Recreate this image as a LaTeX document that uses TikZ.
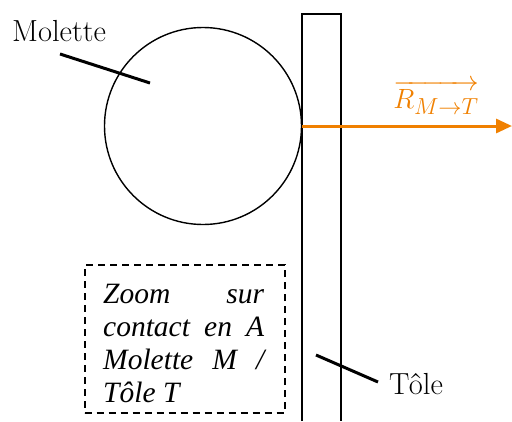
\documentclass[tikz,border=0pt]{standalone}
\usepackage{fontspec}
\newfontfamily\boxfont{Liberation Serif}
\usetikzlibrary{arrows.meta}
\definecolor{forceorange}{RGB}{240,128,0}
\begin{document}
\begin{tikzpicture}[x=1pt,y=-1pt,
  lbl/.style={font=\fontsize{30.5}{36}\selectfont, inner sep=0pt},
  leader/.style={line width=3pt},
  force/.style={line width=3pt, draw=forceorange, -{Triangle[length=16pt,width=14pt]}}]
\useasboundingbox (0,0) rectangle (512,421);
% Wheel
\node[circle, draw, line width=1.4pt, minimum size=197pt, inner sep=0pt] (wheel) at (203,126) {};
% Sheet
\draw[line width=2pt] (302,421) -- (302,14) -- (341,14) -- (341,421);
% Labels
\node[lbl, anchor=base west] (mol) at (12,41) {Molette};
\coordinate (molA) at (60,54);
\coordinate (molB) at (150,83);
\draw[leader] (molA) -- (molB);
\node[lbl, anchor=base west] (tole) at (389,394) {Tôle};
\coordinate (toleA) at (316,355);
\coordinate (toleB) at (378,382);
\draw[leader] (toleA) -- (toleB);
% Force
\coordinate (fend) at (512,126);
\draw[force] (wheel.east) -- (fend);
\node[inner sep=0pt, text=forceorange, anchor=base, font=\fontsize{24.88}{30}\selectfont] (R) at (436,108) {\scalebox{1.12}{$\overrightarrow{R_{M\to T}}$}};
% Dashed box
\node[draw, dash pattern=on 7pt off 5pt, line width=2pt, minimum width=200pt, minimum height=148pt, inner sep=0pt] (zbox) at (184.5,339) {};
\node[anchor=north west, inner sep=0pt, text width=161pt, align=justify,
  font=\boxfont\itshape\fontsize{29.5}{33}\selectfont] (ztext) at (103,280)
  {\strut Zoom sur contact en A Molette M / Tôle T};
\end{tikzpicture}
\end{document}
